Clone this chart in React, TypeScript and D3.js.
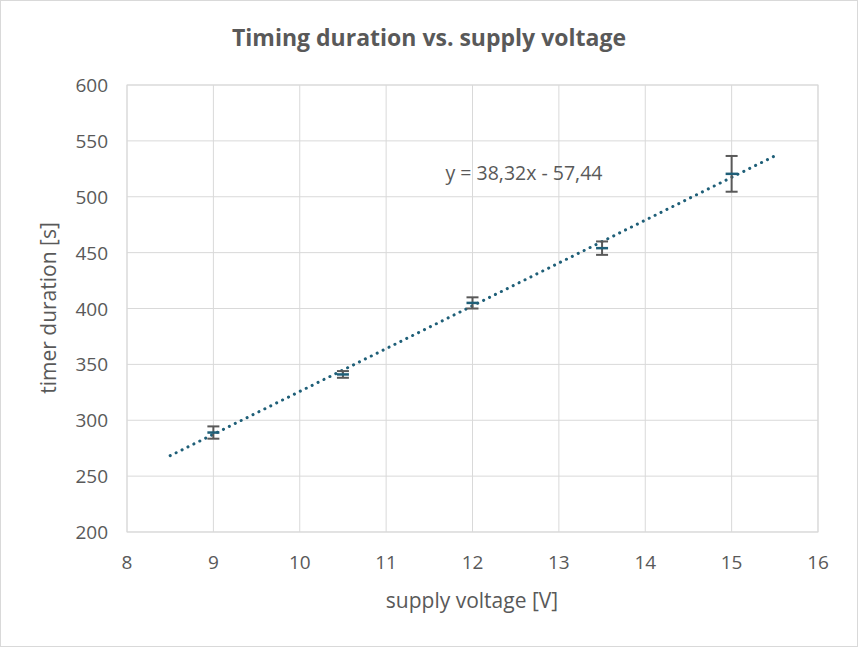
import React from "react";
import * as d3 from "d3";

const voltages = [9, 10.5, 12, 13.5, 15];
const durations = [289, 341, 405, 454, 520.5];
const errors = [5.5, 3, 5, 6, 16];
const xTicks = [8, 9, 10, 11, 12, 13, 14, 15, 16];
const yTicks = [200, 250, 300, 350, 400, 450, 500, 550, 600];
const slope = 38.32, intercept = -57.44;
const trendRange = [8.5, 15.5];

export default function App() {
  const W = 858, H = 647;
  const x = d3.scaleLinear().domain([8, 16]).range([127, 818]);
  const y = d3.scaleLinear().domain([200, 600]).range([532, 85]);
  const font = "'Segoe UI', 'Open Sans', 'Liberation Sans', sans-serif";
  const teal = "#1f5f78";
  const line = d3.line<number>().x(v => x(v)).y(v => y(slope * v + intercept));
  return (
    <svg width={W} height={H} style={{ position: "absolute", left: 0, top: 0 }} fontFamily={font}>
      <rect x={0.5} y={0.5} width={W - 1} height={H - 1} fill="#fff" stroke="#d9d9d9" />
      {xTicks.map(t => <line key={"x" + t} x1={x(t)} x2={x(t)} y1={85} y2={532} stroke="#d9d9d9" />)}
      {yTicks.map(t => <line key={"y" + t} x1={127} x2={818} y1={y(t)} y2={y(t)} stroke="#d9d9d9" />)}
      <rect x={127} y={85} width={691} height={447} fill="none" stroke="#d9d9d9" />
      {xTicks.map(t => <text key={"xl" + t} x={x(t)} y={569} textAnchor="middle" fontSize={19} fill="#595959">{t}</text>)}
      {yTicks.map(t => <text key={"yl" + t} x={108} y={y(t) + 7} textAnchor="end" fontSize={19} fill="#595959">{t}</text>)}
      <path d={line(trendRange) || ""} stroke={teal} strokeWidth={3} strokeDasharray="0.1 6.5" strokeLinecap="round" fill="none" />
      {voltages.map((v, i) => (
        <g key={"p" + i}>
          <line x1={x(v)} x2={x(v)} y1={y(durations[i] + errors[i])} y2={y(durations[i] - errors[i])} stroke="#595959" strokeWidth={2} />
          <line x1={x(v) - 6} x2={x(v) + 6} y1={y(durations[i] + errors[i])} y2={y(durations[i] + errors[i])} stroke="#595959" strokeWidth={2} />
          <line x1={x(v) - 6} x2={x(v) + 6} y1={y(durations[i] - errors[i])} y2={y(durations[i] - errors[i])} stroke="#595959" strokeWidth={2} />
          <line x1={x(v) - 6} x2={x(v) + 6} y1={y(durations[i])} y2={y(durations[i])} stroke={teal} strokeWidth={2.5} />
        </g>
      ))}
      <text x={524} y={180} textAnchor="middle" fontSize={19.5} fill="#595959">y = 38,32x - 57,44</text>
      <text x={429} y={46} textAnchor="middle" fontSize={23} fontWeight="bold" fill="#595959">Timing duration vs. supply voltage</text>
      <text x={472} y={608} textAnchor="middle" fontSize={21} fill="#595959">supply voltage [V]</text>
      <text transform="translate(56,308) rotate(-90)" textAnchor="middle" fontSize={21} fill="#595959">timer duration [s]</text>
    </svg>
  );
}
